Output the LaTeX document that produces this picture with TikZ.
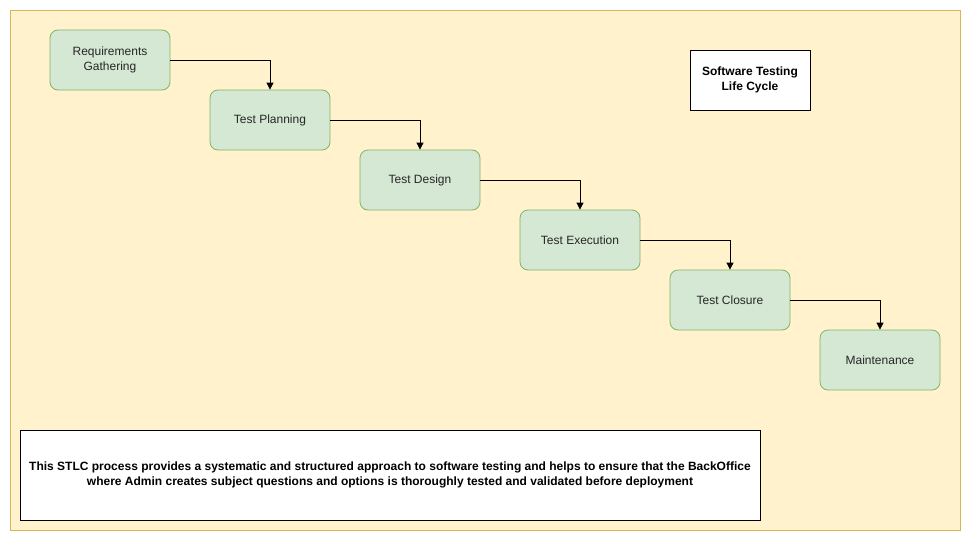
\documentclass[tikz,border=0pt]{standalone}
\usepackage{fontspec}
\setmainfont{Liberation Sans}
\usetikzlibrary{arrows.meta}
\definecolor{bgfill}{HTML}{FFF2CC}
\definecolor{bgdraw}{HTML}{D6B656}
\definecolor{gfill}{HTML}{D5E8D4}
\definecolor{gdraw}{HTML}{82B366}
\begin{document}
\begin{tikzpicture}[x=1pt,y=-1pt,
  stage/.style={draw=gdraw,fill=gfill,rounded corners=8pt,minimum width=120pt,minimum height=60pt,align=center,font=\fontsize{12}{15}\selectfont,text=black!85,line width=0.8pt},
  plainbox/.style={draw=black,fill=white,align=center,font=\bfseries\fontsize{12}{15}\selectfont,line width=0.8pt},
  flow/.style={-{Triangle[length=7pt,width=7pt]},line width=0.8pt}]
\useasboundingbox (0,0) rectangle (971,541);
\node[draw=bgdraw,fill=bgfill,minimum width=950pt,minimum height=520pt,line width=0.8pt] (bg) at (485,270) {};
\node[stage] (req) at (110,60) {Requirements\\Gathering};
\node[stage] (plan) at (270,120) {Test Planning};
\node[stage] (des) at (420,180) {Test Design};
\node[stage] (exe) at (580,240) {Test Execution};
\node[stage] (clo) at (730,300) {Test Closure};
\node[stage] (mai) at (880,360) {Maintenance};
\node[plainbox,minimum width=120pt,minimum height=60pt] (title) at (750,80) {Software Testing\\Life Cycle};
\node[plainbox,minimum width=740pt,minimum height=90pt] (note) at (390,475) {This STLC process provides a systematic and structured approach to software testing and helps to ensure that the BackOffice\\where Admin creates subject questions and options is thoroughly tested and validated before deployment};
\draw[flow] (req.east) -| (plan.north);
\draw[flow] (plan.east) -| (des.north);
\draw[flow] (des.east) -| (exe.north);
\draw[flow] (exe.east) -| (clo.north);
\draw[flow] (clo.east) -| (mai.north);
\end{tikzpicture}
\end{document}
